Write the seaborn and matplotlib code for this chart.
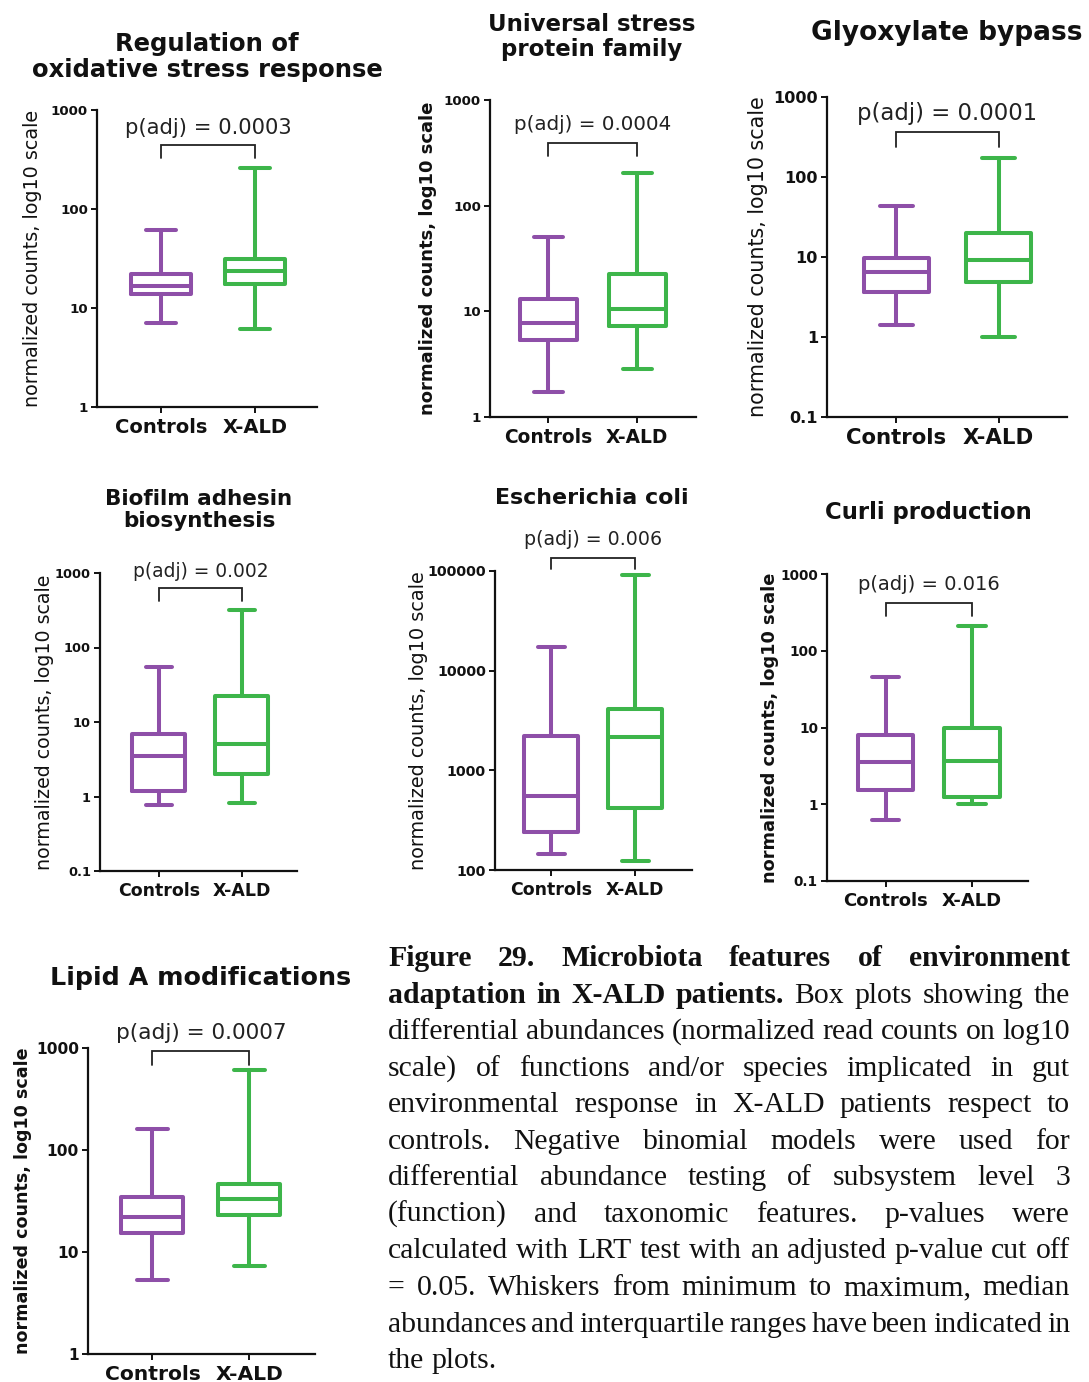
import numpy as np
import pandas as pd
import matplotlib
matplotlib.use("Agg")
import matplotlib.pyplot as plt
from matplotlib.ticker import NullLocator
import seaborn as sns

W, H, DPI = 1089, 1382, 100

sns.set_style("ticks")
plt.rcParams["font.family"] = ["DejaVu Sans"]
plt.rcParams.update({
    "text.color": "#111111",
    "axes.labelcolor": "#111111",
    "xtick.color": "#111111",
    "ytick.color": "#111111",
    "axes.edgecolor": "#111111",
})

groups = ["Controls", "X-ALD"]
palette = {"Controls": "#8E4FA8", "X-ALD": "#3DB54A"}

titles = [
    "Regulation of\noxidative stress response",
    "Universal stress\nprotein family",
    "Glyoxylate bypass",
    "Biofilm adhesin\nbiosynthesis",
    "Escherichia coli",
    "Curli production",
    "Lipid A modifications",
]
p_labels = [
    "p(adj) = 0.0003",
    "p(adj) = 0.0004",
    "p(adj) = 0.0001",
    "p(adj) = 0.002",
    "p(adj) = 0.006",
    "p(adj) = 0.016",
    "p(adj) = 0.0007",
]
ylabel = "normalized counts, log10 scale"

# five-number summaries per group: minimum, Q1, median, Q3, maximum
oxidative_controls = [7.1, 13.7, 16.7, 22.0, 61.5]
oxidative_xald = [6.1, 17.4, 23.5, 31.4, 258]
usp_controls = [1.72, 5.4, 7.7, 13.2, 51]
usp_xald = [2.86, 7.3, 10.5, 22.6, 203]
glyoxylate_controls = [1.4, 3.7, 6.5, 9.8, 43]
glyoxylate_xald = [1.0, 4.9, 9.1, 20.1, 173]
biofilm_controls = [0.78, 1.19, 3.5, 7.0, 54]
biofilm_xald = [0.83, 2.0, 5.0, 22.4, 315]
ecoli_controls = [145, 242, 556, 2200, 17300]
ecoli_xald = [124, 415, 2170, 4140, 92000]
curli_controls = [0.62, 1.52, 3.56, 7.9, 45.8]
curli_xald = [1.0, 1.25, 3.67, 10.0, 210]
lipid_controls = [5.3, 15.3, 22.0, 35.0, 161]
lipid_xald = [7.3, 22.8, 33.0, 46.0, 604]

series = [
    (oxidative_controls, oxidative_xald),
    (usp_controls, usp_xald),
    (glyoxylate_controls, glyoxylate_xald),
    (biofilm_controls, biofilm_xald),
    (ecoli_controls, ecoli_xald),
    (curli_controls, curli_xald),
    (lipid_controls, lipid_xald),
]

# panel geometry in pixels (left, top, right, bottom) and text styling
panels = [
    dict(box=(97, 110, 317, 407), ylim=(1, 1e3), xlim=(-0.68, 1.66), title_xy=(207, 57), title_fs=17.5,
         ylab_x=33, ylab_fs=13.8, ylab_w="normal", ytick_fs=9.6, xtick_fs=14, p_fs=15.2, p_y=653, br=(443, 325)),
    dict(box=(490, 100, 696, 417), ylim=(1, 1e3), xlim=(-0.655, 1.66), title_xy=(592, 37), title_fs=16.5,
         ylab_x=428, ylab_fs=13, ylab_w="bold", ytick_fs=9.6, xtick_fs=13.4, p_fs=14.3, p_y=581, br=(389, 298)),
    dict(box=(827, 97, 1067, 417), ylim=(0.1, 1e3), xlim=(-0.68, 1.67), title_xy=(947, 33), title_fs=19,
         ylab_x=758, ylab_fs=14.9, ylab_w="normal", ytick_fs=11.6, xtick_fs=15.3, p_fs=16.4, p_y=617, br=(365, 237)),
    dict(box=(100, 573, 297, 871), ylim=(0.1, 1e3), xlim=(-0.71, 1.665), title_xy=(199, 510), title_fs=15.5,
         ylab_x=45, ylab_fs=13.7, ylab_w="normal", ytick_fs=9.3, xtick_fs=12.5, p_fs=13.4, p_y=1050, br=(628, 425)),
    dict(box=(495, 571, 692, 870), ylim=(100, 1e5), xlim=(-0.667, 1.675), title_xy=(592, 498), title_fs=15.9,
         ylab_x=418, ylab_fs=13.9, ylab_w="normal", ytick_fs=10.3, xtick_fs=12.5, p_fs=13.7, p_y=2.06e5,
         br=(1.36e5, 1.05e5)),
    dict(box=(827, 574, 1028, 881), ylim=(0.1, 1e3), xlim=(-0.68, 1.65), title_xy=(928, 512), title_fs=16.4,
         ylab_x=770, ylab_fs=12.8, ylab_w="bold", ytick_fs=9.8, xtick_fs=13, p_fs=14, p_y=720, br=(414, 286)),
    dict(box=(88, 1048, 315, 1354), ylim=(1, 1e3), xlim=(-0.666, 1.68), title_xy=(201, 978), title_fs=18.3,
         ylab_x=23, ylab_fs=12.6, ylab_w="bold", ytick_fs=11.2, xtick_fs=14.6, p_fs=15.6, p_y=1403, br=(927, 685)),
]

caption_lines = [
    [("Figure 29. Microbiota features of environment", "bold")],
    [("adaptation in X-ALD patients.", "bold"), ("Box plots showing the", "normal")],
    [("differential abundances (normalized read counts on log10", "normal")],
    [("scale) of functions and/or species implicated in gut", "normal")],
    [("environmental response in X-ALD patients respect to", "normal")],
    [("controls. Negative binomial models were used for", "normal")],
    [("differential abundance testing of subsystem level 3", "normal")],
    [("(function) and taxonomic features. p-values were", "normal")],
    [("calculated with LRT test with an adjusted p-value cut off", "normal")],
    [("= 0.05. Whiskers from minimum to maximum, median", "normal")],
    [("abundances and interquartile ranges have been indicated in", "normal")],
    [("the plots.", "normal")],
]


def tick_text(v):
    return "0.1" if v < 1 else str(int(round(v)))


fig = plt.figure(figsize=(W / DPI, H / DPI), dpi=DPI)
fig.patch.set_facecolor("white")

for (ctrl, xald), title, plab, spec in zip(series, titles, p_labels, panels):
    l, t, r, b = spec["box"]
    ax = fig.add_axes([l / W, 1 - b / H, (r - l) / W, (b - t) / H])
    df = pd.DataFrame({
        "group": np.repeat(groups, [len(ctrl), len(xald)]),
        "value": np.concatenate([ctrl, xald]),
    })
    sns.boxplot(data=df, x="group", y="value", hue="group", order=groups, hue_order=groups,
                palette=palette, fill=False, linewidth=2.9, width=0.64, whis=(0, 100),
                log_scale=True, legend=False, ax=ax)

    lo, hi = spec["ylim"]
    decades = np.arange(np.log10(lo), np.log10(hi) + 0.5)
    yticks = 10.0 ** decades
    ax.set_ylim(lo, hi)
    ax.set_yticks(yticks, [tick_text(v) for v in yticks], fontsize=spec["ytick_fs"], fontweight="bold")
    ax.yaxis.set_minor_locator(NullLocator())
    ax.set_xlim(*spec["xlim"])
    ax.set_xticks([0, 1], groups, fontsize=spec["xtick_fs"], fontweight="bold")
    ax.set_xlabel("")
    ax.set_ylabel(ylabel, fontsize=spec["ylab_fs"], fontweight=spec["ylab_w"], va="center")
    ax.yaxis.set_label_coords((spec["ylab_x"] - l) / (r - l), 0.5)

    for side in ("top", "right"):
        ax.spines[side].set_visible(False)
    for side in ("left", "bottom"):
        ax.spines[side].set_linewidth(1.6)
    ax.tick_params(axis="both", direction="out", length=4, width=1.4, pad=2.5)
    ax.tick_params(axis="x", pad=4)
    ax.set_facecolor("none")

    top, leg = spec["br"]
    ax.plot([0, 0, 1, 1], [leg, top, top, leg], color="#222222", lw=1.3, clip_on=False,
            solid_joinstyle="miter")
    ax.text(0.5, spec["p_y"], plab, ha="center", va="center", fontsize=spec["p_fs"],
            color="#222222", clip_on=False)

    tx, ty = spec["title_xy"]
    fig.text(tx / W, 1 - ty / H, title, ha="center", va="center", fontsize=spec["title_fs"],
             fontweight="bold", linespacing=1.15)

# justified caption block
renderer = fig.canvas.get_renderer()
cap_left, cap_right = 388, 1070
cap_width = cap_right - cap_left
cap_first_baseline, cap_step = 966, 36.55
serif = ["Liberation Serif", "DejaVu Serif"]
min_space = 0.6  # tightest allowed word gap, as a fraction of a normal space


def text_width(s, weight, size):
    tmp = fig.text(0, 0, s, fontsize=size, fontweight=weight, family=serif)
    w = tmp.get_window_extent(renderer).width
    tmp.remove()
    return w


def space_width(size):
    return text_width("a a", "normal", size) - text_width("aa", "normal", size)


size = 26.0
widest = 0
for line in caption_lines[:-1]:
    words = [(w, wt) for seg, wt in line for w in seg.split()]
    nat = sum(text_width(w, wt, size) for w, wt in words) + (len(words) - 1) * min_space * space_width(size)
    widest = max(widest, nat)
if widest > cap_width - 1:
    size *= (cap_width - 1) / widest

space_w = space_width(size)
for i, line in enumerate(caption_lines):
    words = [(w, wt) for seg, wt in line for w in seg.split()]
    widths = [text_width(w, wt, size) for w, wt in words]
    last = i == len(caption_lines) - 1
    gap = space_w if last or len(words) == 1 else (cap_width - sum(widths)) / (len(words) - 1)
    x = cap_left
    yb = cap_first_baseline + i * cap_step
    for (w, wt), ww in zip(words, widths):
        fig.text(x / W, 1 - yb / H, w, fontsize=size, fontweight=wt, family=serif,
                 ha="left", va="baseline", color="#111111")
        x += ww + gap

fig.savefig("out.png", dpi=DPI, facecolor="white")
